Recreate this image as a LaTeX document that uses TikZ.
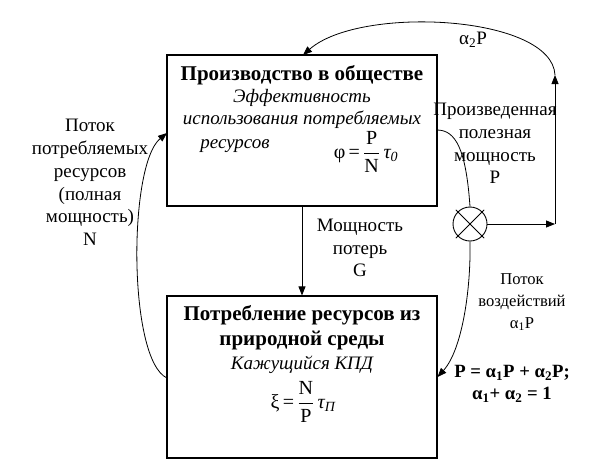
\documentclass[tikz,border=0pt]{standalone}
\usepackage{fontspec}
\setmainfont{Liberation Serif}
\usepackage{amsmath}
\usetikzlibrary{arrows.meta,calc}
\begin{document}
\begin{tikzpicture}[x=1pt,y=-1pt,
  font=\fontsize{19}{22.8}\selectfont,
  box/.style={draw, line width=1.1pt, minimum width=270pt, inner sep=0pt},
  arr/.style={-{Triangle[length=9pt,width=7pt]}, line width=0.8pt},
  conn/.style={line width=0.8pt},
  lbl/.style={align=center, inner sep=0pt},
  ttl/.style={inner sep=0pt, font=\fontsize{21}{25}\selectfont\bfseries},
  itl/.style={inner sep=0pt, font=\fontsize{19}{22.5}\selectfont\itshape},
  fml/.style={inner sep=0pt, font=\fontsize{20}{24}\selectfont}]
\useasboundingbox (0,0) rectangle (615,461);
% boxes
\node[box, minimum height=151pt] (top) at (302,130.5) {};
\node[box, minimum height=162pt] (bot) at (302,377) {};
% top box text
\node[ttl] (t1) at (302,75) {Производство в обществе};
\node[itl] (t2) at (302,98) {Эффективность};
\node[itl] (t3) at (302,120) {использования потребляемых};
\node[itl] (t4) at (235,146) {ресурсов};
\node[fml] (f1) at (366,152) {$\displaystyle\text{φ\,=\,}\frac{\text{P}}{\text{N}}\,\textit{τ}_{\textit{0}}$};
% bottom box text
\node[ttl] (b1) at (302,315) {Потребление ресурсов из};
\node[ttl] (b2) at (302,340) {природной среды};
\node[itl] (b3) at (302,365) {Кажущийся КПД};
\node[fml] (f2) at (303,402) {$\displaystyle\text{ξ\,=\,}\frac{\text{N}}{\text{P}}\,\textit{τ}_{\textit{П}}$};
% circle with cross
\node[circle, draw, line width=0.9pt, minimum size=34pt, inner sep=0pt] (cx) at (470,224) {};
\draw[conn] ($(cx.center)!1.15!(cx.45)$) -- ($(cx.center)!1.15!(cx.225)$);
\draw[conn] ($(cx.center)!1.15!(cx.135)$) -- ($(cx.center)!1.15!(cx.315)$);
% coordinates
\coordinate (corner) at (555,224);
\coordinate (up) at (555,75);
\coordinate (topin) at (303,55);
\coordinate (topout) at (437,130);
\coordinate (leftin) at (167,133);
\coordinate (leftout) at (167,378);
% connectors
\draw[arr] (top.south) -- (bot.north);
\draw[arr] (leftout) .. controls (128,360) and (128,165) .. (leftin);
\draw[conn] (topout) .. controls (456,130) and (466,150) .. (cx.north);
\draw[arr] (cx.south) .. controls (471,290) and (462,350) .. (bot.east);
\draw[arr] (cx.east) -- (corner);
\draw[arr] (corner) -- (up);
\draw[arr] (up) .. controls (552,15) and (360,5) .. (topin);
% labels
\node[lbl] (lN) at (90,182.5) {Поток\\потребляемых\\ресурсов\\(полная\\мощность)\\N};
\node[lbl] (lG) at (360,248) {Мощность\\потерь\\G};
\node[lbl] (lP) at (495,143.5) {Произведенная\\полезная\\мощность\\P};
\node[inner sep=0pt] (la2) at (473,40) {α\textsubscript{2}P};
\node[lbl, font=\fontsize{16.6}{22}\selectfont] (la1) at (522,302) {Поток\\воздействий\\α\textsubscript{1}P};
\node[lbl, font=\fontsize{18.7}{22}\selectfont\bfseries] (eq) at (512,384) {P = α\textsubscript{1}P + α\textsubscript{2}P;\\α\textsubscript{1}+ α\textsubscript{2} = 1};
\end{tikzpicture}
\end{document}
